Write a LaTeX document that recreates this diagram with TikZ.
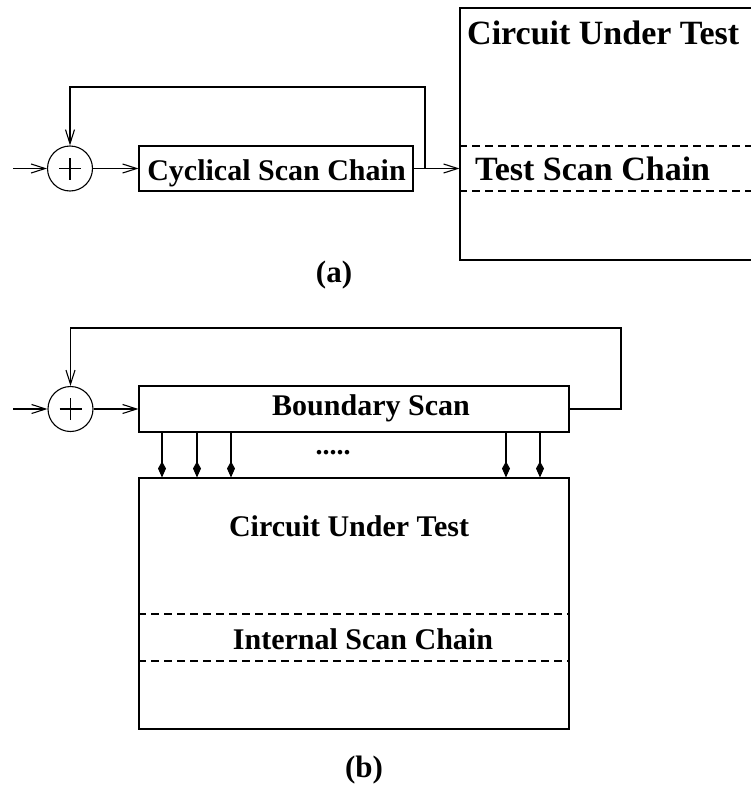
\documentclass[tikz,border=0pt]{standalone}
\usepackage{fontspec}
\setmainfont{Liberation Serif}
\usetikzlibrary{arrows.meta}

\tikzset{
  wire/.style={line width=1.1pt},
  barb/.style={wire, -{Straight Barb[length=14pt,width=9pt,line width=1.1pt]}},
  kite/.style={wire, -{Kite[length=16pt,width=8pt,inset=7pt]}},
  sep/.style={line width=1.1pt, dash pattern=on 8pt off 5pt},
  boxed/.style={draw, line width=1.1pt, inner sep=0pt},
  xorgate/.style={circle, draw, line width=1.1pt, minimum size=45pt, inner sep=0pt},
  big/.style={font=\fontsize{34}{40}\selectfont\bfseries, inner sep=0pt},
  mid/.style={font=\fontsize{30}{36}\selectfont\bfseries, inner sep=0pt},
  caption/.style={font=\fontsize{31}{36}\selectfont\bfseries, inner sep=0pt},
}

\newcommand{\plussign}[1]{%
  \draw[wire] ([xshift=-11pt]#1.center) -- ([xshift=11pt]#1.center);
  \draw[wire] ([yshift=-11pt]#1.center) -- ([yshift=11pt]#1.center);}

\begin{document}
\begin{tikzpicture}[x=1pt,y=-1pt]
\useasboundingbox (0,0) rectangle (751,787);
\clip (0,0) rectangle (751,787);

% ---------- (a) cyclical scan chain feeding the test scan chain ----------
\coordinate (ina) at (13,168.5);
\node[xorgate] (xa) at (70,168.5) {};
\plussign{xa}
\node[boxed, minimum width=274pt, minimum height=45pt] (csc) at (276,168.5) {};
\node[mid, anchor=base] (csct) at (276.5,180) {Cyclical Scan Chain};
\node[boxed, minimum width=320pt, minimum height=252pt] (cuta) at (620,134) {};
\node[big, anchor=base west] (cutat) at (467,44) {Circuit Under Test};
\node[big, anchor=base west] (tsc) at (475,180) {Test Scan Chain};
\coordinate (ja) at (425,168.5);
\coordinate (fa) at (425,87);

\draw[barb] (ina) -- (xa.west);
\draw[barb] (xa.east) -- (csc.west);
\draw[barb] (csc.east) -- (ja) -- (fa) -| (xa.north);
\draw[barb] (ja) -- (ja -| cuta.west);
\draw[sep] (cuta.west |- 0,146) -- (cuta.east |- 0,146);
\draw[sep] (cuta.west |- 0,191) -- (cuta.east |- 0,191);

\node[caption] (la) at (334,275) {(a)};

% ---------- (b) boundary scan around the circuit under test ----------
\coordinate (inb) at (13,409);
\node[xorgate] (xb) at (70.5,409) {};
\plussign{xb}
\node[boxed, minimum width=430pt, minimum height=46pt] (bs) at (354,409) {};
\node[mid, anchor=base] (bst) at (371,415) {Boundary Scan};
\node[boxed, minimum width=430pt, minimum height=251pt] (cutb) at (354,603.5) {};
\node[mid, anchor=base] (cutbt) at (349,536) {Circuit Under Test};
\node[mid, anchor=base] (isc) at (363,649) {Internal Scan Chain};
\coordinate (jb) at (621,409);
\coordinate (fb) at (621,328);

\draw[barb] (inb) -- (xb.west);
\draw[barb] (xb.east) -- (bs.west);
\draw[barb] (bs.east) -- (jb) -- (fb) -| (xb.north);
\draw[sep] (cutb.west |- 0,614) -- (cutb.east |- 0,614);
\draw[sep] (cutb.west |- 0,661) -- (cutb.east |- 0,661);

\foreach \x [count=\i] in {162,197,231,506,540} {
  \coordinate (p\i) at (\x,0);
  \draw[kite] (bs.south -| p\i) -- (cutb.north -| p\i);
}
\node[font=\fontsize{28}{32}\selectfont\bfseries, inner sep=0pt] (dots) at (333,453) {.....};

\node[caption] (lb) at (364,770) {(b)};
\end{tikzpicture}
\end{document}
